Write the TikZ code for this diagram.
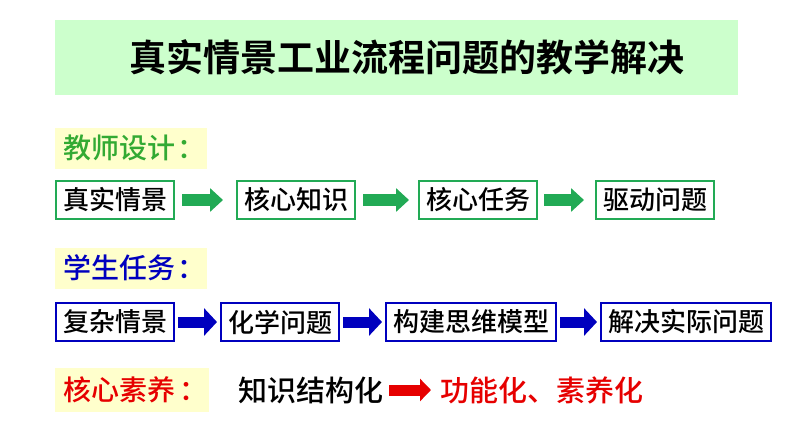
\documentclass[tikz,border=0pt]{standalone}
\usepackage{fontspec}
\setmainfont{Noto Sans CJK SC}[UprightFont={* Medium},BoldFont={* Bold}]
\usetikzlibrary{arrows.meta}
\definecolor{titlebg}{RGB}{204,255,204}
\definecolor{labelbg}{RGB}{255,255,204}
\definecolor{grn}{RGB}{34,170,85}
\definecolor{lblgrn}{RGB}{51,170,51}
\definecolor{blu}{RGB}{0,0,190}
\definecolor{rd}{RGB}{230,0,0}
\tikzset{
  gbox/.style={draw=grn,line width=2pt,anchor=west,inner xsep=7pt,inner ysep=0pt,minimum height=38pt,font=\fontsize{26}{26}\selectfont},
  bbox/.style={gbox,draw=blu},
  lbl/.style={fill=labelbg,anchor=west,inner xsep=2pt,inner ysep=0pt,minimum height=41pt,font=\fontsize{28}{28}\selectfont},
  fat/.style={line width=12pt,-{Triangle[length=13pt,width=23pt]}},
}
\begin{document}
\begin{tikzpicture}[x=1pt,y=-1pt]
\useasboundingbox (0,0) rectangle (794,447);
% title
\fill[titlebg] (55,20) rectangle (738,95);
\node[font=\fontsize{37}{37}\selectfont\bfseries] (title) at (407,57) {真实情景工业流程问题的教学解决};
% teacher row
\node[lbl,text=lblgrn] (tlab) at (55,148) {\hspace*{6pt}教师设计\hspace{2pt}：};
\node[gbox] (t1) at (55,200) {真实情景};
\node[gbox] (t2) at (236,200) {核心知识};
\node[gbox] (t3) at (418,200) {核心任务};
\node[gbox] (t4) at (595,200) {驱动问题};
\draw[fat,grn,shorten <=7pt,shorten >=13pt] (t1.east) -- (t2.west);
\draw[fat,grn,shorten <=7pt,shorten >=9pt] (t2.east) -- (t3.west);
\draw[fat,grn,shorten <=6pt,shorten >=11pt] (t3.east) -- (t4.west);
% student row
\node[lbl,text=blu] (slab) at (55,268) {\hspace*{6pt}学生任务\hspace{2pt}：};
\node[bbox] (s1) at (55,322) {复杂情景};
\node[bbox] (s2) at (220,322) {化学问题};
\node[bbox] (s3) at (385,322) {构建思维模型};
\node[bbox] (s4) at (600,322) {解决实际问题};
\draw[fat,blu,line width=11pt,-{Triangle[length=13pt,width=27pt]},shorten <=3pt,shorten >=3pt] (s1.east) -- (s2.west);
\draw[fat,blu,line width=11pt,-{Triangle[length=13pt,width=27pt]},shorten <=3pt,shorten >=3pt] (s2.east) -- (s3.west);
\draw[fat,blu,line width=11pt,-{Triangle[length=13pt,width=27pt]},shorten <=3pt,shorten >=3pt] (s3.east) -- (s4.west);
% core literacy
\node[lbl,text=rd,minimum height=44pt] (clab) at (55,390) {\hspace*{6pt}核心素养\hspace{4pt}：};
\node[anchor=west,inner sep=0pt,font=\fontsize{29}{29}\selectfont] (k1) at (238,390) {知识结构化};
\node[anchor=west,inner sep=0pt,text=rd,font=\fontsize{29}{29}\selectfont] (k2) at (440,390) {功能化、素养化};
\draw[fat,rd,line width=11pt,-{Triangle[length=11pt,width=22pt]},shorten <=6pt,shorten >=9pt] (k1.east) -- (k2.west);
\end{tikzpicture}
\end{document}
